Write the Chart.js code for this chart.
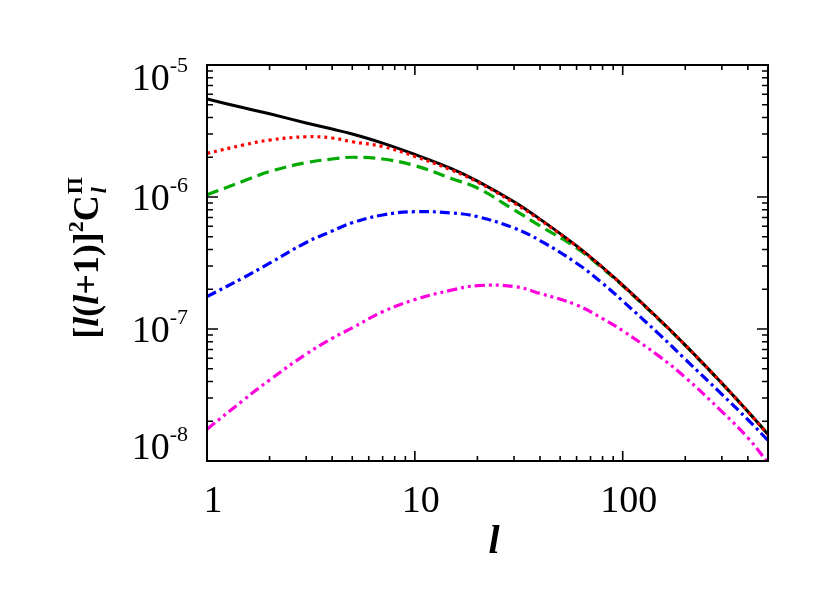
<!DOCTYPE html>
<html>
<head>
<meta charset="utf-8">
<script src="https://cdn.jsdelivr.net/npm/chart.js@4"></script>
<style>
    html, body { margin: 0; padding: 0; background: #fff; }
    canvas { display: block; }
</style>
</head>
<body>
<canvas id="clChart" width="830" height="593"></canvas>
<script>
// multipole l
var ell = [1, 1.5, 2, 3, 4, 5, 7, 10, 15, 20, 30, 40, 60, 80, 100, 150, 200, 300, 400, 500];

// [l(l+1)]^2 C_l, one array per curve
var curveTotal = [5.52e-6, 4.74e-6, 4.27e-6, 3.64e-6, 3.27e-6, 3.0e-6, 2.56e-6, 2.1e-6, 1.64e-6, 1.32e-6,
                  9.2e-7, 6.8e-7, 4.26e-7, 2.93e-7, 2.15e-7, 1.18e-7, 7.55e-8, 3.88e-8, 2.37e-8, 1.59e-8];
var curveRed = [2.14e-6, 2.48e-6, 2.70e-6, 2.86e-6, 2.80e-6, 2.62e-6, 2.41e-6, 2.03e-6, 1.6e-6, 1.3e-6,
                9.0e-7, 6.7e-7, 4.24e-7, 2.92e-7, 2.14e-7, 1.18e-7, 7.55e-8, 3.88e-8, 2.37e-8, 1.59e-8];
var curveGreen = [1.04e-6, 1.32e-6, 1.56e-6, 1.82e-6, 1.94e-6, 2.0e-6, 1.94e-6, 1.73e-6, 1.38e-6, 1.17e-6,
                  8.0e-7, 6.05e-7, 4.11e-7, 2.88e-7, 2.12e-7, 1.17e-7, 7.5e-8, 3.87e-8, 2.37e-8, 1.6e-8];
var curveBlue = [1.76e-7, 2.45e-7, 3.15e-7, 4.52e-7, 5.52e-7, 6.38e-7, 7.31e-7, 7.74e-7, 7.57e-7, 7.1e-7,
                 5.82e-7, 4.68e-7, 3.15e-7, 2.22e-7, 1.63e-7, 9.1e-8, 5.9e-8, 3.2e-8, 2.06e-8, 1.43e-8];
var curveMagenta = [1.74e-8, 2.9e-8, 4.11e-8, 6.46e-8, 8.5e-8, 1.02e-7, 1.35e-7, 1.67e-7, 1.97e-7, 2.13e-7,
                    2.1e-7, 1.86e-7, 1.52e-7, 1.2e-7, 9.7e-8, 6.2e-8, 4.3e-8, 2.37e-8, 1.5e-8, 9.7e-9];

// axis ticks
var xMajor = [1, 10, 100];
var xTickLabels = ['1', '10', '100'];
var yMajor = [1e-8, 1e-7, 1e-6, 1e-5];
var yTickExps = ['-8', '-7', '-6', '-5'];

var FONT = '"Liberation Serif", "Times New Roman", serif';

function pts(vals) {
    return ell.map(function (l, i) { return { x: l, y: vals[i] }; });
}

// minor ticks 2..9 in every decade
function minorTicks(lo, hi) {
    var out = [];
    for (var d = lo; d < hi; d *= 10) {
        for (var k = 2; k <= 9; k++) {
            if (k * d < hi) out.push(k * d);
        }
    }
    return out;
}

// box, inward ticks on all sides, tick labels and titles
var boxAxes = {
    id: 'boxAxes',
    afterDatasetsDraw: function (chart) {
        var c = chart.ctx, a = chart.chartArea;
        var xs = chart.scales.x, ys = chart.scales.y;
        c.save();
        c.strokeStyle = '#000';
        c.lineWidth = 2;
        c.strokeRect(a.left, a.top, a.right - a.left, a.bottom - a.top);

        c.lineWidth = 1.6;
        c.beginPath();
        function xTick(v, len) {
            var p = xs.getPixelForValue(v);
            c.moveTo(p, a.bottom); c.lineTo(p, a.bottom - len);
            c.moveTo(p, a.top); c.lineTo(p, a.top + len);
        }
        function yTick(v, len) {
            var p = ys.getPixelForValue(v);
            c.moveTo(a.left, p); c.lineTo(a.left + len, p);
            c.moveTo(a.right, p); c.lineTo(a.right - len, p);
        }
        xMajor.forEach(function (v) { xTick(v, 10); });
        minorTicks(1, 500).forEach(function (v) { xTick(v, 5); });
        yMajor.forEach(function (v) { yTick(v, 11); });
        minorTicks(1e-8, 1e-5).forEach(function (v) { yTick(v, 6); });
        c.stroke();

        c.fillStyle = '#000';
        c.textBaseline = 'alphabetic';

        // x tick labels
        c.font = '38px ' + FONT;
        c.textAlign = 'center';
        xMajor.forEach(function (v, i) {
            c.fillText(xTickLabels[i], xs.getPixelForValue(v) + 6, 512);
        });

        // y tick labels 10^n
        yMajor.forEach(function (v, i) {
            var p = ys.getPixelForValue(v);
            var mid = Math.min(Math.max(p + 1, a.top + 12.5), a.bottom - 14);
            var base = mid + 12;
            c.font = '22px ' + FONT;
            c.textAlign = 'right';
            c.fillText(yTickExps[i], 188, base - 18);
            var ew = c.measureText(yTickExps[i]).width;
            c.font = '38px ' + FONT;
            c.fillText('10', 188 - ew, base);
        });

        // x title
        c.font = 'italic bold 40px ' + FONT;
        c.textAlign = 'center';
        c.fillText('l', 494, 553);

        // y title, rotated
        var size = 36;
        var parts = [
            ['[', 'bold ', 0], ['l', 'italic bold ', 0], ['(', 'bold ', 0], ['l', 'italic bold ', 0],
            ['+1)]', 'bold ', 0], ['2', 'bold ', 1], ['C', 'bold ', 0]
        ];
        function fontOf(p) {
            return p[1] + (p[2] ? Math.round(size * 0.62) : size) + 'px ' + FONT;
        }
        var total = 0;
        parts.forEach(function (p) { c.font = fontOf(p); total += c.measureText(p[0]).width; });
        c.font = 'bold ' + Math.round(size * 0.62) + 'px ' + FONT;
        var piW = c.measureText('\u03A0').width;
        total += piW + 1;
        c.translate(98, 258 + total / 2);
        c.rotate(-Math.PI / 2);
        c.textAlign = 'left';
        var x = 0;
        parts.forEach(function (p) {
            c.font = fontOf(p);
            c.fillText(p[0], x, p[2] ? -size * 0.42 : 0);
            x += c.measureText(p[0]).width;
        });
        c.font = 'bold ' + Math.round(size * 0.62) + 'px ' + FONT;
        c.fillText('\u03A0', x + 1, -size * 0.45);
        c.font = 'italic bold ' + Math.round(size * 0.62) + 'px ' + FONT;
        c.fillText('l', x + 2, size * 0.22);
        c.restore();
    }
};

var ctx = document.getElementById('clChart').getContext('2d');

var clChart = new Chart(ctx, {
    type: 'line',
    data: {
        datasets: [
            { data: pts(curveTotal), borderColor: '#000000', borderWidth: 3, order: 2 },
            { data: pts(curveRed), borderColor: '#ff0000', borderWidth: 3.2, borderDash: [3, 4], order: 1 },
            { data: pts(curveGreen), borderColor: '#00aa00', borderWidth: 3.2, borderDash: [12, 6], order: 3 },
            { data: pts(curveBlue), borderColor: '#0000ff', borderWidth: 3.2, borderDash: [10, 4, 3, 4], order: 4 },
            { data: pts(curveMagenta), borderColor: '#ff00dd', borderWidth: 3.2, borderDash: [10, 4, 3, 4, 3, 4], order: 5 }
        ]
    },
    options: {
        responsive: false,
        devicePixelRatio: 1,
        animation: false,
        layout: { padding: { left: 207, top: 65, right: 62, bottom: 132 } },
        elements: {
            point: { radius: 0 },
            line: { fill: false, tension: 0.4 }
        },
        plugins: { legend: { display: false }, tooltip: { enabled: false } },
        scales: {
            x: { type: 'logarithmic', min: 1, max: 500, display: false },
            y: { type: 'logarithmic', min: 1e-8, max: 1e-5, display: false }
        }
    },
    plugins: [boxAxes]
});
</script>
</body>
</html>
